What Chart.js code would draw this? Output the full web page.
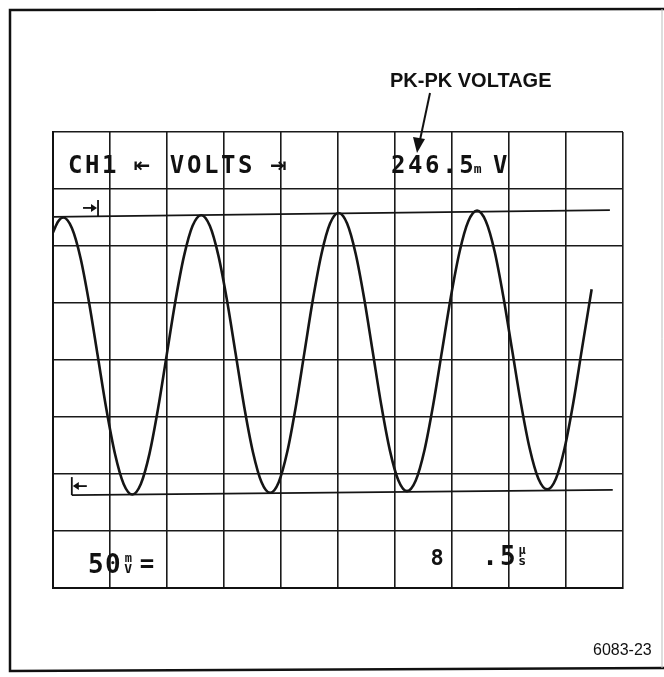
<!DOCTYPE html>
<html>
<head>
<meta charset="utf-8">
<script src="https://cdn.jsdelivr.net/npm/chart.js@4.4.1/dist/chart.umd.min.js"></script>
<style>
html,body{margin:0;padding:0;background:#fff;}
canvas{display:block;}
</style>
</head>
<body>
<canvas id="c" width="664" height="677"></canvas>
<script>
// ---- data (graticule divisions: x 0..10, y 0..8 from bottom) ----
const waveX = [0.00, 0.09, 0.18, 0.331, 0.483, 0.634, 0.785, 0.936, 1.088, 1.239, 1.39,
  1.541, 1.693, 1.844, 1.995, 2.146, 2.298, 2.449, 2.60,
  2.751, 2.903, 3.054, 3.205, 3.356, 3.508, 3.659, 3.81,
  3.96, 4.11, 4.26, 4.41, 4.56, 4.71, 4.86, 5.01,
  5.16, 5.31, 5.46, 5.61, 5.76, 5.91, 6.06, 6.21,
  6.364, 6.518, 6.671, 6.825, 6.979, 7.133, 7.286, 7.44,
  7.594, 7.748, 7.901, 8.055, 8.209, 8.363, 8.516, 8.67,
  8.823, 8.975, 9.128, 9.28, 9.45];
const waveY = [6.24, 6.43, 6.50, 6.315, 5.79, 5.00, 4.07, 3.14, 2.35, 1.825, 1.64,
  1.826, 2.358, 3.152, 4.09, 5.028, 5.822, 6.354, 6.54,
  6.355, 5.827, 5.038, 4.105, 3.172, 2.383, 1.855, 1.67,
  1.857, 2.389, 3.185, 4.125, 5.065, 5.861, 6.393, 6.58,
  6.395, 5.865, 5.075, 4.14, 3.205, 2.415, 1.885, 1.70,
  1.887, 2.421, 3.218, 4.16, 5.102, 5.899, 6.433, 6.62,
  6.434, 5.904, 5.111, 4.175, 3.239, 2.446, 1.916, 1.73,
  1.917, 2.452, 3.251, 4.195, 5.24];
const upperCursorX = [0.00, 9.77];
const upperCursorY = [6.51, 6.63];
const lowerCursorX = [0.33, 9.82];
const lowerCursorY = [1.63, 1.72];
const xDivisions = [0, 10];
const yDivisions = [0, 8];
const topReadout = ['CH1', 'VOLTS', '246.5', 'm', 'V'];
const bottomReadout = ['50', 'm', 'V', '=', '8', '.', '5', 'μ', 's'];
const annotation = 'PK-PK VOLTAGE';
const figureId = '6083-23';

const toPts = (xs, ys) => xs.map((x, i) => ({x: x, y: ys[i]}));

const decorPlugin = {
  id: 'decor',
  afterDraw(chart) {
    const ctx = chart.ctx;
    const sx = chart.scales.x, sy = chart.scales.y;
    const px = v => sx.getPixelForValue(v);
    const py = v => sy.getPixelForValue(v);
    ctx.save();
    ctx.fillStyle = '#111';
    ctx.strokeStyle = '#111';

    // outer frame
    ctx.lineWidth = 2.5;
    ctx.beginPath();
    ctx.moveTo(664, 9); ctx.lineTo(10, 10); ctx.lineTo(10, 671); ctx.lineTo(664, 668);
    ctx.stroke();
    ctx.strokeStyle = '#bbb'; ctx.lineWidth = 1;
    ctx.beginPath(); ctx.moveTo(662, 9); ctx.lineTo(662, 668); ctx.stroke();
    ctx.strokeStyle = '#111';

    // cursor markers
    ctx.lineWidth = 1.8;
    const ub = px(0.79), uy = py(6.51);
    ctx.beginPath(); ctx.moveTo(ub, uy); ctx.lineTo(ub, uy - 17); ctx.stroke();
    ctx.beginPath(); ctx.moveTo(ub - 15, uy - 9); ctx.lineTo(ub - 3, uy - 9); ctx.stroke();
    ctx.beginPath(); ctx.moveTo(ub - 1, uy - 9); ctx.lineTo(ub - 7, uy - 13); ctx.lineTo(ub - 7, uy - 5); ctx.closePath(); ctx.fill();
    const lb = px(0.33), ly = py(1.63);
    ctx.beginPath(); ctx.moveTo(lb, ly); ctx.lineTo(lb, ly - 18); ctx.stroke();
    ctx.beginPath(); ctx.moveTo(lb + 15, ly - 9); ctx.lineTo(lb + 3, ly - 9); ctx.stroke();
    ctx.beginPath(); ctx.moveTo(lb + 1, ly - 9); ctx.lineTo(lb + 7, ly - 13); ctx.lineTo(lb + 7, ly - 5); ctx.closePath(); ctx.fill();

    // readouts (top row)
    const mono = '"DejaVu Sans Mono", "Liberation Mono", monospace';
    ctx.textBaseline = 'alphabetic';
    ctx.textAlign = 'left';
    ctx.font = 'bold 24px ' + mono;
    ctx.letterSpacing = '2.6px';
    const tb = py(7.28);
    ctx.fillText(topReadout[0], px(0.263), tb);
    ctx.fillText(topReadout[1], px(2.05), tb);
    ctx.fillText(topReadout[2], px(5.93), tb);
    ctx.letterSpacing = '0px';
    ctx.font = 'bold 13px ' + mono;
    ctx.fillText(topReadout[3], px(7.38), tb);
    ctx.font = 'bold 24px ' + mono;
    ctx.fillText(topReadout[4], px(7.72), tb);
    ctx.font = 'bold 20px "DejaVu Sans", sans-serif';
    ctx.textAlign = 'center';
    ctx.fillText('⇤', px(1.56), tb - 1);
    ctx.fillText('⇥', px(3.95), tb - 1);

    // readouts (bottom row)
    ctx.textAlign = 'left';
    ctx.font = 'bold 26px ' + mono;
    ctx.letterSpacing = '1.4px';
    const bbL = py(0.263), bbR = py(0.40);
    ctx.fillText(bottomReadout[0], px(0.614), bbL);
    ctx.letterSpacing = '0px';
    ctx.textAlign = 'center';
    ctx.font = 'bold 12px ' + mono;
    ctx.fillText(bottomReadout[1], px(1.32), bbL - 11);
    ctx.font = 'bold 13px ' + mono;
    ctx.fillText(bottomReadout[2], px(1.32), bbL);
    ctx.font = 'bold 24px ' + mono;
    ctx.fillText(bottomReadout[3], px(1.65), bbL - 1);
    ctx.font = 'bold 22px ' + mono;
    ctx.fillText(bottomReadout[4], px(6.74), bbR);
    ctx.font = 'bold 26px ' + mono;
    ctx.fillText(bottomReadout[5], px(7.67), bbR);
    ctx.textAlign = 'left';
    ctx.fillText(bottomReadout[6], px(7.84), bbR);
    ctx.textAlign = 'center';
    ctx.font = 'bold 12px ' + mono;
    ctx.fillText(bottomReadout[7], px(8.23), bbR - 11);
    ctx.font = 'bold 13px ' + mono;
    ctx.fillText(bottomReadout[8], px(8.23), bbR);

    // annotation + arrow
    ctx.textAlign = 'left';
    ctx.font = 'bold 20px "Liberation Sans", Arial, sans-serif';
    ctx.fillText(annotation, 390, 87);
    ctx.lineWidth = 2;
    ctx.beginPath(); ctx.moveTo(430, 93); ctx.lineTo(420, 140); ctx.stroke();
    ctx.beginPath(); ctx.moveTo(417, 153); ctx.lineTo(413, 137); ctx.lineTo(425, 139); ctx.closePath(); ctx.fill();

    // figure id
    ctx.font = '16px "Liberation Sans", Arial, sans-serif';
    ctx.fillText(figureId, 593, 655);
    ctx.restore();
  }
};

new Chart(document.getElementById('c'), {
  type: 'scatter',
  data: {
    datasets: [
      {
        label: 'trace',
        data: toPts(waveX, waveY),
        showLine: true,
        borderColor: '#151515',
        borderWidth: 2.6,
        pointRadius: 0,
        cubicInterpolationMode: 'monotone'
      },
      {
        label: 'upper cursor',
        data: toPts(upperCursorX, upperCursorY),
        showLine: true,
        borderColor: '#151515',
        borderWidth: 1.8,
        pointRadius: 0
      },
      {
        label: 'lower cursor',
        data: toPts(lowerCursorX, lowerCursorY),
        showLine: true,
        borderColor: '#151515',
        borderWidth: 1.8,
        pointRadius: 0
      }
    ]
  },
  options: {
    responsive: false,
    animation: false,
    devicePixelRatio: 1,
    layout: { padding: { left: 53, top: 132, right: 41, bottom: 89 } },
    plugins: { legend: { display: false }, tooltip: { enabled: false }, title: { display: false } },
    scales: {
      x: {
        type: 'linear',
        min: xDivisions[0], max: xDivisions[1],
        ticks: { display: false, stepSize: 1 },
        grid: { color: '#1a1a1a', lineWidth: 1.6, drawTicks: false },
        border: { display: true, color: '#111', width: 2 }
      },
      y: {
        type: 'linear',
        min: yDivisions[0], max: yDivisions[1],
        ticks: { display: false, stepSize: 1 },
        grid: { color: '#1a1a1a', lineWidth: 1.6, drawTicks: false },
        border: { display: true, color: '#111', width: 2 }
      }
    }
  },
  plugins: [decorPlugin]
});
</script>
</body>
</html>
